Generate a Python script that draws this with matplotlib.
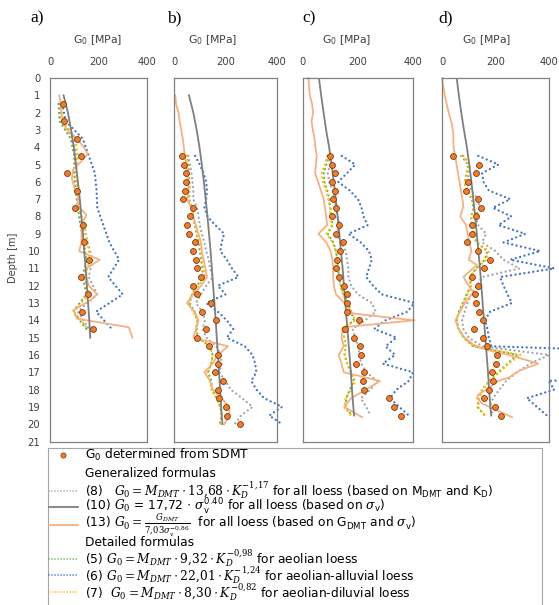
import matplotlib.pyplot as plt
import numpy as np
from matplotlib.patches import Rectangle

plt.rcParams['font.family'] = ['DejaVu Sans']
plt.rcParams['mathtext.fontset'] = 'custom'
plt.rcParams['mathtext.rm'] = 'DejaVu Serif'
plt.rcParams['mathtext.it'] = 'DejaVu Serif:italic'
plt.rcParams['mathtext.bf'] = 'DejaVu Serif:bold'
plt.rcParams['mathtext.sf'] = 'DejaVu Sans'

# ---------------- data (G0 in MPa vs depth in m) ----------------
# panel a)
a_depth = [1.5, 2.5, 3.5, 4.5, 5.5, 6.5, 7.5, 8.5, 9.5, 10.5, 11.5, 12.5, 13.5, 14.5]
a_sdmt = [55, 59, 113, 128, 69, 110, 103, 135, 142, 159, 128, 155, 131, 177]
a_f5 = [35, 40, 85, 100, 100, 105, 115, 125, 140, 150, 135, 150, 95, 150]
a_f6 = [50, 65, 135, 160, 185, 192, 195, 220, 245, 285, 240, 300, 190, 255]
a_f7 = [45, 55, 105, 115, 105, 112, 120, 135, 155, 165, 142, 160, 100, 155]
a_f8 = [40, 50, 95, 110, 100, 112, 120, 140, 155, 175, 160, 195, 115, 160]
a_f13_depth = [1.0, 1.5, 2.0, 2.5, 3.0, 3.5, 4.0, 4.4, 4.8, 5.3, 5.8, 6.3, 6.8, 7.4, 7.9,
               8.5, 9.0, 9.5, 10.0, 10.5, 11.0, 11.5, 12.0, 12.5, 12.9, 13.4, 13.9, 14.4, 15.0]
a_f13 = [38, 45, 48, 50, 70, 110, 140, 155, 130, 95, 90, 100, 115, 115, 150,
         130, 130, 130, 120, 205, 150, 150, 160, 195, 160, 97, 110, 325, 340]
a_f10_depth = [1, 2, 3, 4, 5, 6, 7, 8, 9, 10, 11, 12, 13, 14, 15]
a_f10 = [56, 74, 87, 98, 107, 115, 123, 129, 136, 141, 147, 152, 157, 162, 166]

# panel b)
b_depth = np.arange(4.5, 20.01, 0.5)
b_sdmt = [30, 39, 45, 45, 41, 34, 75, 62, 52, 58, 82, 72, 85, 88, 103, 75, 88, 142, 110, 163,
          123, 91, 137, 169, 172, 159, 191, 172, 175, 202, 204, 256]
b_f5 = [50, 55, 58, 60, 60, 58, 70, 74, 80, 88, 95, 100, 105, 110, 112, 90, 70, 60, 80, 92,
        88, 92, 140, 150, 145, 132, 145, 148, 165, 180, 185, 178]
b_f6 = [82, 100, 115, 125, 128, 125, 118, 130, 160, 195, 185, 180, 205, 225, 250, 170, 200, 125, 170, 205,
        230, 205, 275, 305, 315, 320, 300, 320, 350, 420, 370, 420]
b_f7 = [48, 52, 55, 58, 60, 55, 70, 75, 82, 90, 100, 105, 110, 115, 120, 95, 70, 55, 75, 90,
        85, 90, 140, 150, 145, 130, 140, 145, 165, 180, 185, 180]
b_f8 = [55, 62, 68, 72, 75, 75, 90, 95, 100, 108, 118, 125, 135, 140, 150, 125, 105, 85, 110, 120,
        112, 125, 165, 180, 185, 175, 200, 220, 265, 305, 260, 235]
b_f13_depth = np.arange(1.0, 20.01, 0.5)
b_f13 = [5, 8, 18, 22, 28, 34, 38, 42, 47, 52, 55, 57, 50, 68, 74, 85, 95, 105, 108, 115,
         122, 128, 105, 75, 50, 80, 95, 85, 75, 210, 170, 150, 118, 140, 150, 185, 215, 215, 195]
b_f10_depth = list(range(1, 21))
b_f10 = [58, 75, 88, 99, 108, 116, 123, 130, 136, 142, 147, 152, 157, 162, 166, 171, 175, 179, 183, 188]

# panel c)
c_depth = np.arange(4.5, 19.51, 0.5)
c_sdmt = [98, 104, 116, 107, 116, 110, 119, 104, 131, 119, 147, 135, 122, 120, 131, 149, 161, 161, 159, 202,
          153, 186, 208, 211, 192, 222, 217, 223, 314, 332, 355]
c_f5 = [90, 85, 75, 78, 88, 95, 100, 102, 108, 90, 110, 120, 125, 128, 130, 138, 148, 165, 175, 185,
        145, 150, 155, 152, 160, 175, 185, 170, 158, 155, 178]
c_f6 = [141, 190, 160, 128, 170, 200, 213, 220, 235, 165, 210, 240, 250, 240, 230, 255, 286, 405, 380, 300,
        259, 340, 300, 335, 290, 400, 385, 340, 316, 350, 385]
c_f7 = [88, 80, 68, 72, 85, 92, 98, 100, 105, 85, 108, 120, 125, 128, 130, 135, 145, 160, 175, 190,
        140, 150, 155, 150, 160, 175, 190, 175, 155, 150, 175]
c_f8 = [92, 98, 90, 95, 108, 115, 120, 125, 135, 120, 140, 155, 160, 165, 165, 175, 200, 250, 265, 225,
        180, 190, 200, 205, 212, 230, 270, 245, 210, 230, 245]
c_f13_depth = [0.0, 0.5, 1.0, 1.5, 2.0, 2.5, 3.0, 3.5, 4.0, 4.5, 5.0, 5.5, 6.0, 6.5, 7.0, 7.5, 8.0, 8.5,
               9.0, 9.5, 10.0, 10.5, 11.0, 11.5, 12.0, 12.5, 13.0, 13.6, 14.0, 14.4, 15.0, 15.5, 16.0,
               16.5, 17.0, 17.5, 18.0, 18.5, 19.0, 19.6]
c_f13 = [20, 22, 25, 33, 37, 31, 36, 42, 45, 50, 47, 44, 55, 65, 75, 80, 84, 88,
         56, 85, 100, 107, 110, 110, 112, 120, 150, 180, 405, 145, 140, 148, 130,
         140, 148, 280, 230, 175, 150, 215]
c_f10_depth = [0, 1, 2, 3, 4, 5, 6, 7, 8, 9, 10, 11, 12, 13, 14, 15, 16, 17, 18, 19, 19.5]
c_f10 = [58, 66, 75, 84, 95, 104, 112, 119, 126, 132, 138, 144, 149, 154, 159, 164, 169, 174, 178, 183, 186]

# panel d)
d_depth = np.arange(4.5, 19.51, 0.5)
d_sdmt = [42, 140, 127, 99, 89, 136, 145, 126, 113, 111, 95, 136, 180, 158, 111, 136, 123, 126, 140, 155,
          120, 152, 167, 204, 201, 186, 190, 177, 158, 198, 219]
d_f5 = [72, 98, 92, 84, 92, 112, 118, 108, 112, 118, 128, 170, 160, 128, 103, 108, 92, 78, 63, 55,
        62, 82, 118, 280, 245, 210, 178, 150, 138, 132, 160]
d_f6 = [136, 211, 150, 155, 175, 255, 190, 260, 211, 311, 230, 367, 255, 420, 217, 230, 245, 261, 180, 160,
        170, 175, 185, 1200, 1200, 1200, 398, 420, 317, 355, 392]
d_f7 = [75, 100, 95, 85, 95, 115, 120, 110, 115, 120, 130, 175, 165, 130, 105, 110, 95, 80, 65, 55,
        60, 80, 115, 295, 250, 215, 180, 150, 140, 135, 160]
d_f8 = [80, 105, 100, 95, 110, 135, 140, 125, 135, 165, 150, 200, 230, 290, 150, 130, 110, 95, 85, 75,
        80, 100, 150, 400, 330, 280, 240, 215, 190, 180, 190]
d_f13_depth = [0.0, 1.0, 2.0, 2.6, 3.2, 4.0, 4.5, 5.5, 6.7, 7.4, 8.0, 8.5, 9.2, 10.0, 10.5, 10.8, 11.5,
               12.0, 12.4, 13.0, 14.0, 14.5, 15.0, 15.4, 15.7, 16.0, 16.5, 16.9, 17.3, 17.5, 17.9,
               18.3, 18.5, 18.8, 19.6]
d_f13 = [0, 10, 25, 36, 42, 43, 49, 60, 73, 80, 68, 90, 98, 110, 100, 130, 80,
         100, 117, 85, 50, 62, 85, 117, 165, 250, 360, 290, 250, 210, 175,
         135, 130, 150, 262]
d_f10_depth = [0, 1, 2, 3, 4, 5, 6, 7, 8, 9, 10, 11, 12, 13, 14, 15, 16, 17, 18, 19, 19.5]
d_f10 = [55, 63, 72, 82, 93, 102, 110, 117, 124, 130, 136, 142, 147, 152, 157, 162, 167, 172, 176, 181, 184]

panel_labels = ['a)', 'b)', 'c)', 'd)']
x_ticks = [0, 200, 400]
depth_ticks = list(range(0, 22))

C_DOT, C_DOT_EDGE = '#ed7d31', '#7a3a0c'
C_F13 = '#f4b183'
C_F10 = '#7f7f7f'
C_F8 = '#a5a5a5'
C_F5 = '#70ad47'
C_F6 = '#4472c4'
C_F7 = '#ffc000'
DOTTED = (0, (0.01, 1.9))
TXT = '#404040'

W, H = 559, 605
fig = plt.figure(figsize=(W / 100, H / 100), dpi=100)


def add_px_axes(l, r, t, b):
    return fig.add_axes([l / W, 1 - b / H, (r - l) / W, (b - t) / H])


panels = [
    (a_depth, a_sdmt, a_f5, a_f6, a_f7, a_f8, a_f13_depth, a_f13, a_f10_depth, a_f10),
    (b_depth, b_sdmt, b_f5, b_f6, b_f7, b_f8, b_f13_depth, b_f13, b_f10_depth, b_f10),
    (c_depth, c_sdmt, c_f5, c_f6, c_f7, c_f8, c_f13_depth, c_f13, c_f10_depth, c_f10),
    (d_depth, d_sdmt, d_f5, d_f6, d_f7, d_f8, d_f13_depth, d_f13, d_f10_depth, d_f10),
]
boxes = [(50, 147), (174, 277), (303, 413), (442, 549)]
title_x = [98, 213, 347, 487]
letter_x = [30, 167, 302, 438]

for i, (p, (l, r)) in enumerate(zip(panels, boxes)):
    dep, sdmt, f5, f6, f7, f8, f13d, f13, f10d, f10 = p
    ax = add_px_axes(l, r, 78, 441.5)
    for vals, col in [(f8, C_F8), (f6, C_F6), (f5, C_F5), (f7, C_F7)]:
        ax.plot(vals, dep, color=col, lw=1.7, ls=DOTTED, dash_capstyle='round', clip_on=False)
    ax.plot(f13, f13d, color=C_F13, lw=1.3, clip_on=False)
    ax.plot(f10, f10d, color=C_F10, lw=1.3)
    ax.scatter(sdmt, dep, s=18, color=C_DOT, edgecolor=C_DOT_EDGE, linewidth=0.6, zorder=5)

    ax.set_xlim(0, 400)
    ax.set_ylim(21, 0)
    ax.xaxis.tick_top()
    ax.set_xticks(x_ticks)
    ax.set_yticks(depth_ticks)
    ax.tick_params(axis='x', length=0, pad=8, labelsize=7.2, labelcolor=TXT)
    ax.tick_params(axis='y', length=0, pad=7, labelsize=7.2, labelcolor=TXT)
    if i > 0:
        ax.set_yticklabels([])
    for s in ax.spines.values():
        s.set_color('#808080')
        s.set_linewidth(0.9)

    fig.text(title_x[i] / W, 1 - 40 / H, r'G$_{\mathsf{0}}$ [MPa]', ha='center', va='center',
             fontsize=7.8, color=TXT)
    fig.text(letter_x[i] / W, 1 - 18 / H, panel_labels[i], ha='left', va='center',
             fontsize=12.5, family='Liberation Serif', color='black')

fig.text(13 / W, 1 - 258 / H, 'Depth [m]', rotation=90, ha='center', va='center',
         fontsize=7, color=TXT)

# ---------------- legend ----------------
lax = fig.add_axes([0, 0, 1, 1])
lax.set_xlim(0, W)
lax.set_ylim(H, 0)
lax.axis('off')
lax.add_patch(Rectangle((48, 447.5), 494, 170, facecolor='white', edgecolor='#a6a6a6', lw=0.8))

leg_rows = [
    ('dot', r'G$_{\mathsf{0}}$ determined from SDMT'),
    (None, 'Generalized formulas'),
    (C_F8, r'(8)   $G_0 = M_{DMT}\cdot 13{,}68\cdot K_D^{-1{,}17}$ for all loess (based on M$_{\mathsf{DMT}}$ and K$_{\mathsf{D}}$)'),
    (C_F10, r'(10) $G_0$ = 17,72 $\cdot$ $\sigma_{\mathsf{v}}^{\mathsf{0.40}}$ for all loess (based on $\sigma_{\mathsf{v}}$)'),
    (C_F13, r'(13) $G_0 = \frac{G_{DMT}}{7{,}03\sigma_v^{-0{,}86}}$  for all loess (based on G$_{\mathsf{DMT}}$ and $\sigma_{\mathsf{v}}$)'),
    (None, 'Detailed formulas'),
    (C_F5, r'(5) $G_0 = M_{DMT}\cdot 9{,}32\cdot K_D^{-0{,}98}$ for aeolian loess'),
    (C_F6, r'(6) $G_0 = M_{DMT}\cdot 22{,}01\cdot K_D^{-1{,}24}$ for aeolian-alluvial loess'),
    (C_F7, r'(7)  $G_0 = M_{DMT}\cdot 8{,}30\cdot K_D^{-0{,}82}$ for aeolian-diluvial loess'),
]
row_y = [455, 473.5, 490.5, 507, 525, 542, 558.5, 575, 592]
for (kind, label), y in zip(leg_rows, row_y):
    if kind == 'dot':
        lax.scatter([63], [y], s=14, color=C_DOT, edgecolor=C_DOT_EDGE, linewidth=0.5)
    elif kind in (C_F10, C_F13):
        lax.plot([49, 78], [y, y], color=kind, lw=1.3)
    elif kind is not None:
        lax.plot([49, 78], [y, y], color=kind, lw=1.2, ls=(0, (0.01, 1.8)), dash_capstyle='round')
    lax.text(85, y, label, ha='left', va='center', fontsize=8.8, color='black')

fig.savefig('out.png', dpi=100)
